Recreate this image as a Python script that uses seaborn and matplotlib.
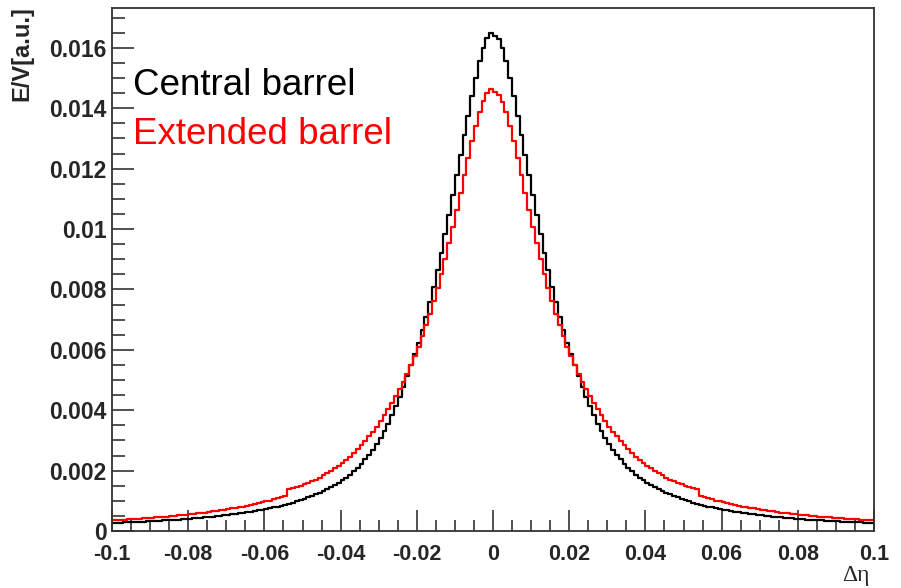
import numpy as np
import pandas as pd
import matplotlib
matplotlib.use("Agg")
import matplotlib.pyplot as plt
import seaborn as sns
from matplotlib.ticker import MultipleLocator, FixedLocator, FuncFormatter

# ---- data (histogram contents, 200 bins of width 0.001 from -0.1 to 0.1) ----
x_min, x_max, n_bins = -0.1, 0.1, 200

central_left = [
    0.00027, 0.00028, 0.00028, 0.00029, 0.00029, 0.00030, 0.00030, 0.00031, 0.00031, 0.00032,
    0.00033, 0.00033, 0.00034, 0.00035, 0.00035, 0.00036, 0.00037, 0.00038, 0.00039, 0.00040,
    0.00041, 0.00042, 0.00043, 0.00044, 0.00045, 0.00046, 0.00047, 0.00049, 0.00050, 0.00052,
    0.00053, 0.00055, 0.00056, 0.00058, 0.00060, 0.00062, 0.00064, 0.00066, 0.00068, 0.00071,
    0.00073, 0.00075, 0.00078, 0.00081, 0.00084, 0.00087, 0.00090, 0.00094, 0.00098, 0.00102,
    0.00106, 0.00111, 0.00116, 0.00121, 0.00126, 0.00132, 0.00138, 0.00145, 0.00152, 0.00160,
    0.00168, 0.00177, 0.00187, 0.00198, 0.00210, 0.00223, 0.00237, 0.00252, 0.00269, 0.00287,
    0.00307, 0.00330, 0.00355, 0.00383, 0.00413, 0.00445, 0.00478, 0.00512, 0.00549, 0.00585,
    0.00624, 0.00665, 0.00709, 0.00757, 0.00809, 0.00864, 0.00922, 0.00983, 0.01047, 0.01113,
    0.01180, 0.01245, 0.01310, 0.01375, 0.01440, 0.01500, 0.01555, 0.01600, 0.01632, 0.01650,
]
central_right = [
    0.01638, 0.01628, 0.01600, 0.01555, 0.01500, 0.01440, 0.01375, 0.01310, 0.01245, 0.01180,
    0.01113, 0.01047, 0.00983, 0.00922, 0.00864, 0.00809, 0.00757, 0.00709, 0.00665, 0.00624,
    0.00585, 0.00549, 0.00512, 0.00478, 0.00445, 0.00413, 0.00383, 0.00355, 0.00330, 0.00307,
    0.00287, 0.00269, 0.00252, 0.00237, 0.00223, 0.00210, 0.00198, 0.00187, 0.00177, 0.00168,
    0.00160, 0.00152, 0.00145, 0.00138, 0.00132, 0.00126, 0.00121, 0.00116, 0.00111, 0.00106,
    0.00102, 0.00098, 0.00094, 0.00090, 0.00087, 0.00084, 0.00081, 0.00078, 0.00075, 0.00073,
    0.00071, 0.00068, 0.00066, 0.00064, 0.00062, 0.00060, 0.00058, 0.00056, 0.00055, 0.00053,
    0.00052, 0.00050, 0.00049, 0.00047, 0.00046, 0.00045, 0.00044, 0.00043, 0.00042, 0.00041,
    0.00040, 0.00039, 0.00038, 0.00037, 0.00036, 0.00035, 0.00035, 0.00034, 0.00033, 0.00033,
    0.00032, 0.00031, 0.00031, 0.00030, 0.00030, 0.00029, 0.00029, 0.00028, 0.00028, 0.00027,
]

extended_left = [
    0.00036, 0.00037, 0.00037, 0.00038, 0.00039, 0.00040, 0.00040, 0.00041, 0.00042, 0.00043,
    0.00044, 0.00045, 0.00046, 0.00047, 0.00048, 0.00049, 0.00050, 0.00052, 0.00053, 0.00054,
    0.00055, 0.00057, 0.00058, 0.00060, 0.00061, 0.00063, 0.00065, 0.00067, 0.00069, 0.00071,
    0.00073, 0.00075, 0.00077, 0.00079, 0.00081, 0.00084, 0.00086, 0.00089, 0.00092, 0.00095,
    0.00098, 0.00101, 0.00105, 0.00108, 0.00112, 0.00116, 0.00139, 0.00142, 0.00146, 0.00150,
    0.00154, 0.00159, 0.00164, 0.00170, 0.00177, 0.00184, 0.00192, 0.00199, 0.00207, 0.00215,
    0.00225, 0.00235, 0.00246, 0.00258, 0.00271, 0.00284, 0.00298, 0.00313, 0.00329, 0.00346,
    0.00364, 0.00383, 0.00403, 0.00424, 0.00446, 0.00470, 0.00495, 0.00521, 0.00549, 0.00579,
    0.00611, 0.00645, 0.00681, 0.00720, 0.00761, 0.00805, 0.00852, 0.00901, 0.00953, 0.01007,
    0.01063, 0.01120, 0.01178, 0.01235, 0.01290, 0.01342, 0.01388, 0.01425, 0.01450, 0.01464,
]
extended_right = [
    0.01455, 0.01445, 0.01422, 0.01388, 0.01342, 0.01290, 0.01235, 0.01178, 0.01120, 0.01063,
    0.01007, 0.00953, 0.00901, 0.00852, 0.00805, 0.00761, 0.00720, 0.00681, 0.00645, 0.00611,
    0.00579, 0.00549, 0.00521, 0.00495, 0.00470, 0.00446, 0.00424, 0.00403, 0.00383, 0.00364,
    0.00346, 0.00329, 0.00313, 0.00298, 0.00284, 0.00271, 0.00258, 0.00246, 0.00235, 0.00225,
    0.00215, 0.00207, 0.00199, 0.00192, 0.00184, 0.00177, 0.00170, 0.00164, 0.00159, 0.00154,
    0.00150, 0.00146, 0.00142, 0.00139, 0.00116, 0.00112, 0.00108, 0.00105, 0.00101, 0.00098,
    0.00095, 0.00092, 0.00089, 0.00086, 0.00084, 0.00081, 0.00079, 0.00077, 0.00075, 0.00073,
    0.00071, 0.00069, 0.00067, 0.00065, 0.00063, 0.00061, 0.00060, 0.00058, 0.00057, 0.00055,
    0.00054, 0.00053, 0.00052, 0.00050, 0.00049, 0.00048, 0.00047, 0.00046, 0.00045, 0.00044,
    0.00043, 0.00042, 0.00041, 0.00040, 0.00040, 0.00039, 0.00038, 0.00037, 0.00037, 0.00036,
]

series_names = ["Central barrel", "Extended barrel"]
series_colors = ["#000000", "#ff0000"]
x_ticks = [-0.1, -0.08, -0.06, -0.04, -0.02, 0.0, 0.02, 0.04, 0.06, 0.08, 0.1]
y_ticks = [0.0, 0.002, 0.004, 0.006, 0.008, 0.01, 0.012, 0.014, 0.016]
y_label = "E/V[a.u.]"
x_label = "Δη"

# ---- build table ----
edges = np.linspace(x_min, x_max, n_bins + 1)
centers = 0.5 * (edges[:-1] + edges[1:])
values = {
    series_names[0]: central_left + central_right,
    series_names[1]: extended_left + extended_right,
}
df = pd.concat(
    [pd.DataFrame({"deta": centers, "w": values[n], "series": n}) for n in series_names],
    ignore_index=True,
)

# ---- figure ----
sns.set_theme(style="white")
plt.rcParams["font.family"] = ["Liberation Sans", "DejaVu Sans"]

W, H = 901, 588
fig = plt.figure(figsize=(W / 100, H / 100), dpi=100)
ax = fig.add_axes([112 / W, 1 - 531 / H, (874 - 112) / W, (531 - 8) / H])

for name, col in zip(series_names, series_colors):
    sns.histplot(
        data=df[df["series"] == name], x="deta", weights="w",
        bins=n_bins, binrange=(x_min, x_max),
        element="step", fill=False, color=col, linewidth=1.6, ax=ax,
    )

ax.set_xlim(x_min, x_max)
ax.set_ylim(0, 0.01732)
ax.set_xlabel("")
ax.set_ylabel("")

def fmt(v, p):
    v = round(v, 4)
    if abs(v) < 1e-9:
        return "0"
    return "%g" % v

ax.xaxis.set_major_locator(FixedLocator(x_ticks))
ax.xaxis.set_minor_locator(MultipleLocator(0.005))
ax.yaxis.set_major_locator(FixedLocator(y_ticks))
ax.yaxis.set_minor_locator(MultipleLocator(0.0005))
ax.xaxis.set_major_formatter(FuncFormatter(fmt))
ax.yaxis.set_major_formatter(FuncFormatter(fmt))

ax.tick_params(axis="both", which="both", direction="in", color="#333333",
               width=1.2, bottom=True, left=True, top=False, right=False)
ax.tick_params(axis="x", which="major", length=15, pad=9, labelsize=15.5)
ax.tick_params(axis="x", which="minor", length=8)
ax.tick_params(axis="y", which="major", length=16, pad=4, labelsize=16.5)
ax.tick_params(axis="y", which="minor", length=9)
for lab in ax.get_xticklabels() + ax.get_yticklabels():
    lab.set_fontweight("bold")

for s in ax.spines.values():
    s.set_visible(True)
    s.set_color("#333333")
    s.set_linewidth(1.3)

ax.grid(False)

# legend-like text labels
ax.text((133 - 112) / (874 - 112), (531 - 95) / (531 - 8), series_names[0],
        transform=ax.transAxes, color=series_colors[0], fontsize=26.5,
        ha="left", va="baseline")
ax.text((133 - 112) / (874 - 112), (531 - 144) / (531 - 8), series_names[1],
        transform=ax.transAxes, color=series_colors[1], fontsize=26.5,
        ha="left", va="baseline")

fig.text(22 / W, 1 - 6 / H, y_label, rotation=90, ha="center", va="top",
         fontsize=17, fontweight="bold")
fig.text(856 / W, 1 - 575 / H, x_label, ha="center", va="center",
         fontsize=17, family=["Liberation Serif", "DejaVu Serif"])

fig.savefig("out.png", dpi=100)
